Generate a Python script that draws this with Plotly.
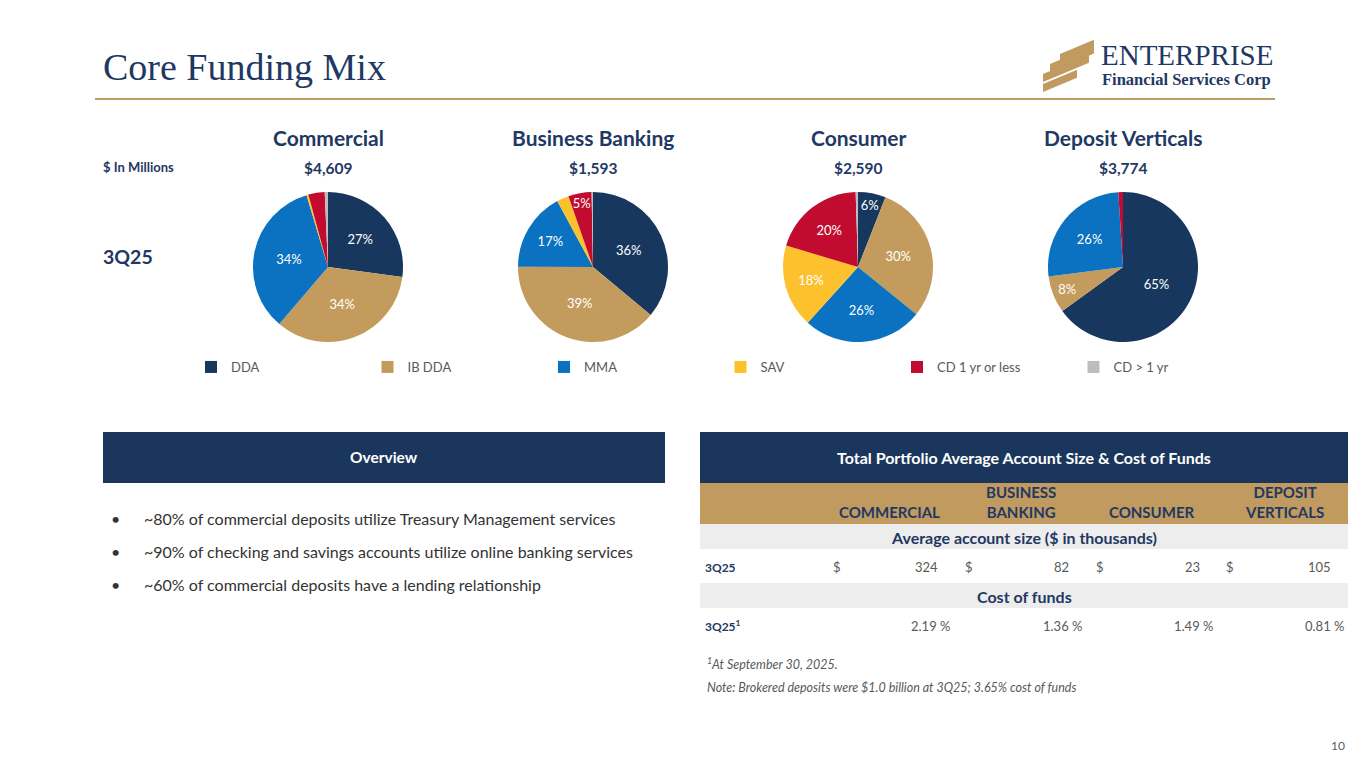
import plotly.graph_objects as go

W, H = 1357, 760
OFF = 8  # page body margin offset


def px(x):
    return (x - OFF) / W


def py(y):
    return 1 - (y - OFF) / H

# ---------------- data ----------------
segments = ["DDA", "IB DDA", "MMA", "SAV", "CD 1 yr or less", "CD > 1 yr"]
seg_colors = ["#17375E", "#C39B5C", "#0A72C1", "#FDC12E", "#C10B2F", "#BDBDBD"]

pie_titles = ["Commercial", "Business Banking", "Consumer", "Deposit Verticals"]
pie_totals = ["$4,609", "$1,593", "$2,590", "$3,774"]

commercial_mix = [27, 34, 34, 0.4, 3.5, 0.7]
business_mix = [36, 39, 17, 2.6, 5, 0.3]
consumer_mix = [6, 30, 26, 18, 20, 0.5]
verticals_mix = [65, 8, 26, 0, 1, 0]
all_mix = [commercial_mix, business_mix, consumer_mix, verticals_mix]

table_cols = ["COMMERCIAL", "BUSINESS<br>BANKING", "CONSUMER", "DEPOSIT<br>VERTICALS"]
avg_account_size = [324, 82, 23, 105]
cost_of_funds = [2.19, 1.36, 1.49, 0.81]

bullets = [
    "~80% of commercial deposits utilize Treasury Management services",
    "~90% of checking and savings accounts utilize online banking services",
    "~60% of commercial deposits have a lending relationship",
]

# ---------------- styles ----------------
NAVY = "#1B365D"
GOLD = "#C09A5F"
GRAY_TXT = "#595959"
FONT = "Lato"

fig = go.Figure()

pie_cx = [328, 593, 858, 1123]
pie_cy = 267
pie_r = 75

for i, vals in enumerate(all_mix):
    cx = pie_cx[i]
    fig.add_trace(go.Pie(
        labels=segments,
        values=vals,
        text=[f"{v:.0f}%" for v in vals],
        textinfo="text",
        textposition=["inside" if v >= 5 else "none" for v in vals],
        insidetextorientation="horizontal",
        textfont=dict(family=FONT, size=13, color="white"),
        marker=dict(colors=seg_colors, line=dict(width=0)),
        sort=False,
        direction="clockwise",
        rotation=0,
        showlegend=(i == 0),
        hoverinfo="label+percent",
        domain=dict(x=[px(cx - pie_r), px(cx + pie_r)],
                    y=[py(pie_cy + pie_r), py(pie_cy - pie_r)]),
    ))

ann = []
shapes = []


def text(x, y, s, size, color, bold=False, italic=False, xanchor="left", family=FONT, yanchor="middle", align="left"):
    if bold:
        s = f"<b>{s}</b>"
    if italic:
        s = f"<i>{s}</i>"
    ann.append(dict(x=px(x), y=py(y), xref="paper", yref="paper", text=s, showarrow=False,
                    xanchor=xanchor, yanchor=yanchor, align=align,
                    font=dict(family=family, size=size, color=color)))


def rect(x0, y0, x1, y1, color):
    shapes.append(dict(type="rect", xref="paper", yref="paper",
                       x0=px(x0), x1=px(x1), y0=py(y1), y1=py(y0),
                       fillcolor=color, line=dict(width=0), layer="below"))

# Title
text(101, 67, "Core Funding Mix", 38, "#1F3864", family="Liberation Serif")
shapes.append(dict(type="line", xref="paper", yref="paper", x0=px(95), x1=px(1275),
                   y0=py(99), y1=py(99), line=dict(color=GOLD, width=2)))

# Logo stripes
bands = [(1060, 1094, 0), (1050, 1094, 10), (1043, 1089, 20), (1043, 1077, 30)]
slope = 0.42
for (lx, rx, off) in bands:
    y_left_bottom = 62 + off
    th = 8
    p = [(lx, y_left_bottom), (lx, y_left_bottom - th),
         (rx, y_left_bottom - th - slope * (rx - lx)), (rx, y_left_bottom - slope * (rx - lx))]
    path = "M " + " L ".join(f"{px(a):.5f},{py(b):.5f}" for a, b in p) + " Z"
    shapes.append(dict(type="path", xref="paper", yref="paper", path=path,
                       fillcolor=GOLD, line=dict(width=0)))
text(1099, 55, "ENTERPRISE", 29, "#1F3864", family="Liberation Serif")
text(1100, 80, "Financial Services Corp", 16.5, "#1F3864", bold=True, family="Liberation Serif")

# Pie headers
for i in range(4):
    text(pie_cx[i], 137, pie_titles[i], 21, "#1F3864", bold=True, xanchor="center")
    text(pie_cx[i], 168, pie_totals[i], 15.5, "#1F3864", bold=True, xanchor="center")
text(101, 167, "$ In Millions", 13, "#1F3864", bold=True)
text(101, 256, "3Q25", 19.5, "#1F3864", bold=True)

# Overview panel
rect(103, 432, 665, 483, NAVY)
text(384, 457, "Overview", 15.5, "white", bold=True, xanchor="center")
for j, b in enumerate(bullets):
    yy = 518 + 33 * j
    text(109, yy, "•", 16, "#333333")
    text(142, yy, b, 16, "#333333")

# Table panel
rect(700, 432, 1348, 483, NAVY)
text(1024, 457, "Total Portfolio Average Account Size &amp; Cost of Funds", 16, "white", bold=True, xanchor="center")
rect(700, 483, 1348, 524, GOLD)
rect(700, 524, 1348, 549, "#EDEDED")
rect(700, 583, 1348, 608, "#EDEDED")

hdr_cx = [890, 1021, 1152, 1284]
dollar_x = [831, 963, 1094, 1224]
val_rx = [940, 1071, 1202, 1333]
cost_rx = [952, 1084, 1215, 1346]
for k, c in enumerate(table_cols):
    text(hdr_cx[k], 523, c, 15, "#1F3864", bold=True, xanchor="center", yanchor="bottom", align="center")
text(1024, 537, "Average account size ($ in thousands)", 16, "#1F3864", bold=True, xanchor="center")
text(1024, 596, "Cost of funds", 16, "#1F3864", bold=True, xanchor="center")

text(703, 567, "3Q25", 12, "#1F3864", bold=True)
text(703, 626, "3Q25<sup>1</sup>", 12, "#1F3864", bold=True)
for k in range(4):
    text(dollar_x[k], 567, "$", 13, GRAY_TXT)
    text(val_rx[k], 567, f"{avg_account_size[k]}", 13, GRAY_TXT, xanchor="right")
    text(cost_rx[k], 626, f"{cost_of_funds[k]:.2f} %", 13, GRAY_TXT, xanchor="right")

# Footnotes
text(705, 663, "<sup>1</sup>At September 30, 2025.", 12.5, GRAY_TXT, italic=True)
text(705, 687, "Note: Brokered deposits were $1.0 billion at 3Q25; 3.65% cost of funds", 12.5, GRAY_TXT, italic=True)
text(1347, 745, "10", 12, GRAY_TXT, xanchor="right")

fig.update_layout(
    width=W, height=H,
    margin=dict(l=0, r=0, t=0, b=0),
    paper_bgcolor="white",
    plot_bgcolor="white",
    annotations=ann,
    shapes=shapes,
    uniformtext=dict(minsize=13, mode="show"),
    legend=dict(
        orientation="h",
        x=px(191), y=py(367), xanchor="left", yanchor="middle",
        entrywidth=131.5, entrywidthmode="pixels",
        font=dict(family=FONT, size=13, color=GRAY_TXT),
        traceorder="normal",
        bgcolor="rgba(0,0,0,0)",
    ),
)

fig.write_html("out.html")
